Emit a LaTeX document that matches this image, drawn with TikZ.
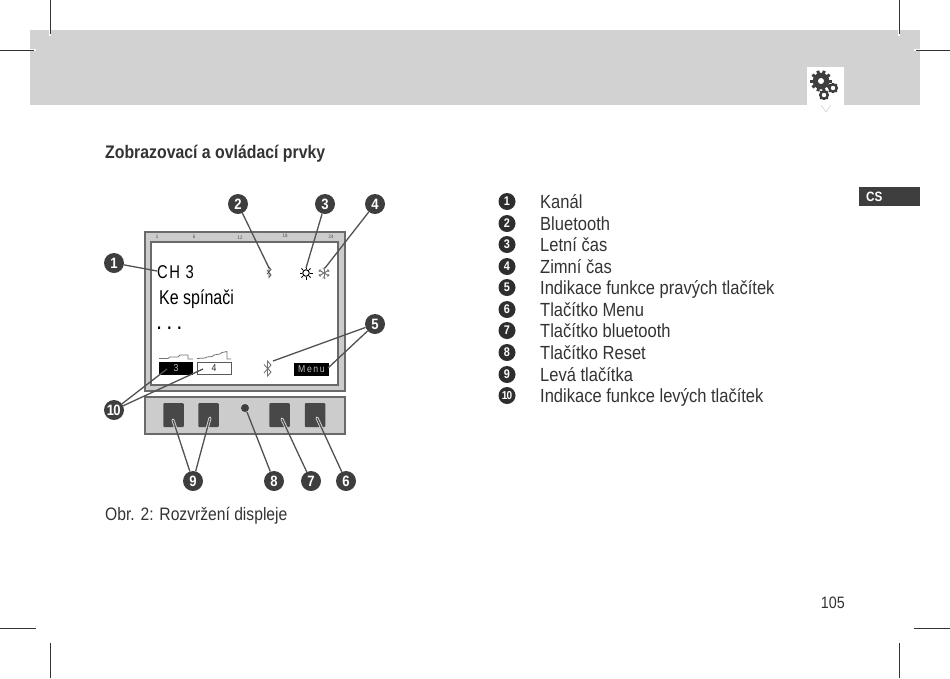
\documentclass[tikz,border=0pt]{standalone}
\usepackage{fontspec}
\setmainfont[FakeStretch=0.87]{Liberation Sans}
\newfontfamily\dispfont[FakeStretch=0.8]{Liberation Sans}
\definecolor{band}{HTML}{D2D2D2}
\definecolor{dark}{HTML}{3E3E3E}
\definecolor{frm}{HTML}{CCCCCC}
\definecolor{edge}{HTML}{6A6A6A}
\definecolor{txt}{HTML}{333333}
\tikzset{
 crop/.style={black!80,line width=1pt},
 cropgap/.style={white,line width=1.4pt},
 badge/.style={circle,fill=dark,text=white,inner sep=0pt,minimum size=20pt,font=\bfseries\fontsize{15}{15}\selectfont},
 smallbadge/.style={circle,fill=black!82,text=white,inner sep=0pt,minimum size=17pt,font=\bfseries\fontsize{12.5}{12.5}\selectfont},
 lead/.style={draw=dark!90,line width=1.3pt},
 listtext/.style={anchor=base west,inner sep=0pt,text=txt,font=\fontsize{19}{19}\selectfont},
 keybtn/.style={fill=dark!95,rounded corners=1pt,minimum width=20.5pt,minimum height=24pt,inner sep=0pt},
 tick/.style={inner sep=0pt,text=black!70,font=\fontsize{5}{5}\selectfont},
 softkey/.style={inner sep=0pt,minimum width=34.5pt,minimum height=13pt,font=\fontsize{10}{10}\selectfont},
 gear/.style={fill=dark},
 stepline/.style={black!55,line width=0.8pt},
}
\begin{document}
\begin{tikzpicture}[x=1pt,y=-1pt]
\useasboundingbox (0,0) rectangle (950,678);
% band
\fill[band] (30,30) rectangle (920,105);
\fill[white] (807,67) rectangle (844,105);
\fill[white] (821,105) -- (831,105) -- (826,112) -- cycle;
\draw[black!18,line width=0.6pt] (821,105) -- (826,112) -- (831,105);
% gears
\fill[gear] (821,81) circle (8.3);
\foreach \a in {0,36,...,324} \fill[gear] (821,81) ++(\a:7.5) ++(\a+90:1.5) -- ++(\a:3.2) -- ++(\a-90:3) -- ++(\a:-3.2) -- cycle;
\fill[white] (821,81) circle (3);
\fill[gear] (833,88) circle (5);
\foreach \a in {0,45,...,315} \fill[gear] (833,88) ++(\a:4) ++(\a+90:0.9) -- ++(\a:1.4) -- ++(\a-90:1.8) -- ++(\a:-1.4) -- cycle;
\fill[white] (833,88) circle (2.2);
\fill[gear] (824,95) circle (5);
\foreach \a in {0,45,...,315} \fill[gear] (824,95) ++(\a:4) ++(\a+90:0.9) -- ++(\a:1.4) -- ++(\a-90:1.8) -- ++(\a:-1.4) -- cycle;
\fill[white] (824,95) circle (2.2);
% crop marks
\draw[cropgap] (50,30) -- (50,36) (30,50) -- (36,50) (899,30) -- (899,36) (914,50) -- (920,50);
\draw[crop] (50,0) -- (50,34) (0,50) -- (34,50) (899,0) -- (899,34) (916,50) -- (950,50)
 (50,643) -- (50,678) (0,628.5) -- (36,628.5) (899,643) -- (899,678) (914,628.5) -- (950,628.5);
% heading
\node[anchor=base west,inner sep=0pt,text=txt,font=\bfseries\fontsize{18.2}{18}\selectfont] (head) at (105,158) {Zobrazovací a ovládací prvky};
% CS tab
\fill[dark] (859,187) rectangle (920,206);
\node[anchor=base west,inner sep=0pt,text=white,font=\bfseries\fontsize{13.5}{14}\selectfont] (cs) at (866,201.5) {CS};
% display
\fill[frm] (145,232) rectangle (345,391);
\draw[edge,line width=1.3pt] (145,391) -- (145,232) -- (345,232) -- (345,391) -- cycle;
\fill[white] (151,242) rectangle (338,385);
\draw[edge,line width=1.1pt] (151,385) -- (151,242) -- (338,242) -- (338,385) -- cycle;
\node[tick] (t1) at (157,237) {1};
\node[tick] (t6) at (194,237) {6};
\node[tick] (t12) at (240,237.5) {12};
\node[tick] (t18) at (285,236) {18};
\node[tick] (t24) at (331,237) {24};
\node[anchor=base west,inner sep=0pt,font=\dispfont\fontsize{18.5}{19}\selectfont] (ch) at (157,278) {C\kern1.5pt H\kern5.5pt 3};
\node[anchor=base west,inner sep=0pt,font=\dispfont\fontsize{20}{20}\selectfont] (ke) at (159,304) {Ke spínači};
\node[anchor=base west,inner sep=0pt,font=\bfseries\fontsize{17}{17}\selectfont] (dots) at (157,329) {.\kern6pt.\kern6pt.};
% bluetooth small
\draw[black!65,line width=0.8pt] (267,270) -- (271,275) -- (269,277.5) -- (269,267) -- (271,269.5) -- (267,274);
% sun
\node[circle,draw=black,line width=1pt,minimum size=6.5pt,inner sep=0pt] (sun) at (306,273) {};
\foreach \a in {0,45,...,315} \draw[black,line width=0.9pt] (sun.center) ++(\a:4.3) -- ++(\a:2.2);
% snow
\coordinate (snow) at (324,273);
\foreach \a in {30,90,150} \draw[black!55,line width=1pt] (snow) ++(\a:5.8) -- ++(\a+180:11.6);
\foreach \a in {30,90,150,210,270,330} {
 \draw[black!45,line width=0.7pt] (snow) ++(\a:3.6) -- ++(\a+40:2.2);
 \draw[black!45,line width=0.7pt] (snow) ++(\a:3.6) -- ++(\a-40:2.2);
}
% function bars
\draw[stepline] (159,358.5) -- (168,358.5) -- (170,357) -- (178,357) -- (180,355) -- (188,355) -- (188,359) -- (193,359);
\draw[stepline] (197,358.5) -- (205,358) -- (207,357) -- (212,356.5) -- (214,355) -- (220,354) -- (222,352.5) -- (227,351.5) -- (227,359) -- (231,359);
\node[softkey,fill=black,text=white!75!black] (k3) at (176,368.5) {3};
\node[softkey,draw=black!65,line width=0.7pt,minimum width=34pt,minimum height=12.5pt,fill=white,text=black!85] (k4) at (214,368.5) {4};
\node[softkey,fill=black,text=white!75!black,minimum width=35pt] (menu) at (311.5,369.5) {M\kern1.6pt e\kern1.6pt n\kern1.6pt u};
\draw[black!55,line width=0.9pt] (264,364.5) -- (271,372) -- (267.5,376) -- (267.5,361) -- (271,365) -- (264,373);
% keypad
\fill[frm] (145,397) rectangle (345,434);
\draw[edge,line width=1.3pt] (145,434) -- (145,397) -- (345,397) -- (345,434) -- cycle;
\node[keybtn] (b1) at (173.5,415) {};
\node[keybtn] (b2) at (208.5,415) {};
\node[circle,fill=dark,inner sep=0pt,minimum size=8pt] (reset) at (245,408) {};
\node[keybtn] (b3) at (279.5,415) {};
\node[keybtn] (b4) at (315,415) {};
% badges
\node[badge] (n1) at (114,263) {1};
\node[badge] (n2) at (238,204) {2};
\node[badge] (n3) at (325,204) {3};
\node[badge] (n4) at (375,204) {4};
\node[badge] (n5) at (375,324) {5};
\node[badge] (n6) at (346,481) {6};
\node[badge] (n7) at (311,481) {7};
\node[badge] (n8) at (274,481) {8};
\node[badge] (n9) at (193,481) {9};
\node[badge] (n10) at (114,410) {\kern-0.5pt 1\kern-1pt 0};
% leaders
\coordinate (p1) at (157,271);
\coordinate (p2) at (269,268);
\coordinate (p3) at (306,268);
\coordinate (p4) at (325,268);
\coordinate (p5a) at (273,361);
\coordinate (p5b) at (328,368);
\coordinate (p10a) at (167,369);
\coordinate (p10b) at (203,369);
\coordinate (p9a) at (173,420);
\coordinate (p9b) at (210,418);
\coordinate (p8) at (247,412);
\coordinate (p7) at (282,419);
\coordinate (p6) at (317,418);
\begin{scope}
 \clip (163,403) rectangle (326,427);
 \foreach \a/\b in {n9/p9a,n9/p9b,n7/p7,n6/p6} \draw[draw=black!15,line width=3pt,line cap=round] (\a) -- (\b);
\end{scope}
\draw[lead] (n1) -- (p1);
\draw[lead] (n2) -- (p2);
\draw[lead] (n3) -- (p3);
\draw[lead] (n4) -- (p4);
\draw[lead] (n5) -- (p5a);
\draw[lead] (n5) -- (p5b);
\draw[lead] (n10) -- (p10a);
\draw[lead] (n10) -- (p10b);
\draw[lead] (n9) -- (p9a);
\draw[lead] (n9) -- (p9b);
\draw[lead] (n8) -- (p8);
\draw[lead] (n7) -- (p7);
\draw[lead] (n6) -- (p6);
% caption
\node[anchor=base west,inner sep=0pt,text=txt,font=\fontsize{18}{18}\selectfont] (cap) at (105,520) {Obr. 2: Rozvržení displeje};
% list
\foreach \i/\y/\t in {1/208/Kanál,2/230/Bluetooth,3/251/Letní čas,4/273/Zimní čas,5/294/Indikace funkce pravých tlačítek,6/316/Tlačítko Menu,7/337/Tlačítko bluetooth,8/359/Tlačítko Reset,9/381/Levá tlačítka,10/402/Indikace funkce levých tlačítek} {
 \node[smallbadge] (l\i) at (507,\y-6.5) {\ifnum\i=10 \fontsize{11.5}{11.5}\selectfont 1\kern-0.8pt 0\else\i\fi};
 \node[listtext] (lt\i) at (540,\y) {\t};
}
% page number
\node[anchor=base east,inner sep=0pt,text=txt,font=\fontsize{16.5}{17}\selectfont] (pg) at (845,608) {105};
\end{tikzpicture}
\end{document}
